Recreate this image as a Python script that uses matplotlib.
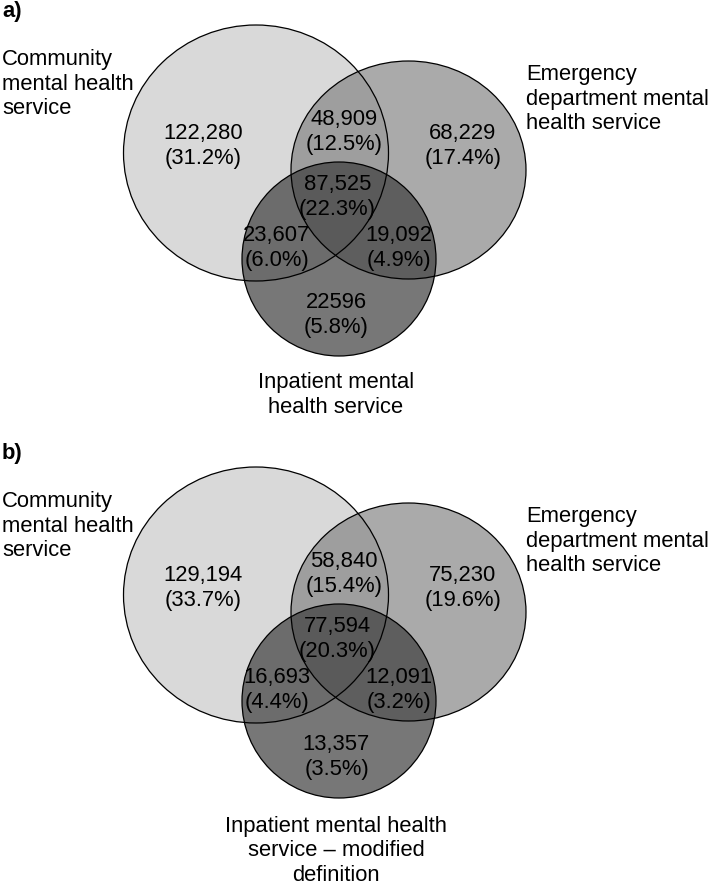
import matplotlib
matplotlib.use("Agg")
import matplotlib.pyplot as plt
from matplotlib.patches import Ellipse

plt.rcParams['font.family'] = ['Liberation Sans', 'DejaVu Sans']

# region order: community only, community+ED, ED only, all three,
# community+inpatient, ED+inpatient, inpatient only
counts_a = ["122,280", "48,909", "68,229", "87,525", "23,607", "19,092", "22596"]
pct_a = [31.2, 12.5, 17.4, 22.3, 6.0, 4.9, 5.8]
counts_b = ["129,194", "58,840", "75,230", "77,594", "16,693", "12,091", "13,357"]
pct_b = [33.7, 15.4, 19.6, 20.3, 4.4, 3.2, 3.5]

set_labels_a = ["Community\nmental health\nservice",
                "Emergency\ndepartment mental\nhealth service",
                "Inpatient mental\nhealth service"]
set_labels_b = ["Community\nmental health\nservice",
                "Emergency\ndepartment mental\nhealth service",
                "Inpatient mental health\nservice \u2013 modified\ndefinition"]

# layout (pixels, panel-relative)
circles = [  # cx, cy, w, h, face, alpha
    (256, 153, 265, 256, '#d9d9d9', 1.0),
    (408.5, 170, 235, 218, '#868686', 0.7),
    (339, 259, 194, 194, '#3e3e3e', 0.7),
]
region_pos = [(203, 146), (344, 132), (463, 146), (337.5, 197),
              (277, 248), (398.5, 248), (336.5, 315)]
fs = 15.8

fig = plt.figure(figsize=(7.08, 8.86), dpi=100)
ax = fig.add_axes([0, 0, 1, 1])
ax.set_xlim(0, 708)
ax.set_ylim(886, 0)
ax.axis('off')


def draw_panel(y0, tag, counts, pcts, labels, inp_y):
    for cx, cy, w, h, fc, a in circles:
        ax.add_patch(Ellipse((cx, cy + y0), w, h, facecolor=fc, alpha=a, edgecolor='none'))
    for cx, cy, w, h, fc, a in circles:
        ax.add_patch(Ellipse((cx, cy + y0), w, h, fill=False, edgecolor='black', lw=0.9))
    for (x, y), c, p in zip(region_pos, counts, pcts):
        ax.text(x, y + y0, f"{c}\n({p:.1f}%)", ha='center', va='center', fontsize=fs)
    ax.text(2, y0 + 1, tag, ha='left', va='top', fontsize=fs, fontweight='bold')
    ax.text(2, y0 + 84, labels[0], ha='left', va='center', fontsize=fs)
    ax.text(526, y0 + 99, labels[1], ha='left', va='center', fontsize=fs)
    ax.text(336, y0 + inp_y, labels[2], ha='center', va='center', fontsize=fs)


draw_panel(0, "a)", counts_a, pct_a, set_labels_a, 395)
draw_panel(442, "b)", counts_b, pct_b, set_labels_b, 409)

fig.savefig("out.png", dpi=100)
